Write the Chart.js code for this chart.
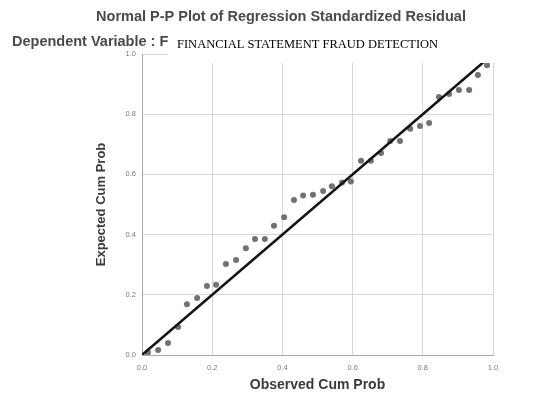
<!DOCTYPE html>
<html lang="en">
  <head>
    <meta charset="UTF-8" />
    <title>Normal P-P Plot</title>
    <style>
      body { margin: 0; background: #fff; }
    </style>
  </head>

  <body>
    <script src="https://cdn.jsdelivr.net/npm/chart.js"></script>
    <canvas id="pp-plot" width="560" height="396"></canvas>

    <script>
      // values
      const observedCumProb = [
        0.017, 0.046, 0.074, 0.103, 0.128, 0.157, 0.185, 0.211, 0.239, 0.268,
        0.296, 0.322, 0.350, 0.376, 0.405, 0.433, 0.459, 0.487, 0.516, 0.541,
        0.570, 0.595, 0.624, 0.652, 0.681, 0.707, 0.735, 0.764, 0.792, 0.818,
        0.846, 0.875, 0.903, 0.932, 0.957, 0.983,
      ]
      const expectedCumProb = [
        0.008, 0.017, 0.040, 0.093, 0.169, 0.189, 0.229, 0.233, 0.302, 0.316,
        0.355, 0.385, 0.385, 0.429, 0.458, 0.515, 0.530, 0.532, 0.545, 0.561,
        0.573, 0.576, 0.645, 0.645, 0.671, 0.711, 0.711, 0.752, 0.761, 0.771,
        0.857, 0.867, 0.880, 0.880, 0.930, 0.963,
      ]
      const lineEnds = [0, 1]
      const tickValues = [0, 0.2, 0.4, 0.6, 0.8, 1.0]

      const chartTitle = 'Normal P-P Plot of Regression Standardized Residual'
      const dependentLabel = 'Dependent Variable : FINANCIAL STATEMENT FRAUD DETECTION'
      const pastedLabel = 'FINANCIAL STATEMENT FRAUD DETECTION'

      const sans = '"Liberation Sans", Arial, sans-serif'

      // title lines + the white pasted-over box
      const header = {
        id: 'header',
        afterDraw(chart) {
          const { ctx } = chart
          ctx.save()
          ctx.fillStyle = '#4a4a4a'
          ctx.textBaseline = 'middle'
          ctx.textAlign = 'center'
          ctx.font = 'bold 14.5px ' + sans
          ctx.fillText(chartTitle, 281, 17)
          ctx.textAlign = 'left'
          ctx.font = 'bold 14.5px ' + sans
          ctx.fillText(dependentLabel, 12, 42)

          ctx.fillStyle = '#fff'
          ctx.fillRect(168, 30, 337, 33)
          ctx.fillStyle = '#000'
          ctx.font = '12.5px "Liberation Serif", "Times New Roman", serif'
          ctx.fillText(pastedLabel, 177, 45)
          ctx.restore()
        },
      }

      const axisTicks = (axis) => {
        axis.ticks = tickValues.map((value) => ({ value }))
      }

      new Chart(document.getElementById('pp-plot'), {
        type: 'scatter',
        data: {
          datasets: [
            {
              label: 'line',
              data: lineEnds.map((v) => ({ x: v, y: v })),
              showLine: true,
              borderColor: '#141414',
              borderWidth: 2.5,
              pointRadius: 0,
              order: 0,
            },
            {
              label: 'residuals',
              data: observedCumProb.map((x, i) => ({ x, y: expectedCumProb[i] })),
              backgroundColor: '#727272',
              borderWidth: 0,
              pointRadius: 3,
              order: 1,
            },
          ],
        },
        options: {
          responsive: false,
          animation: false,
          layout: { padding: { top: 54, right: 67, bottom: 0, left: 0 } },
          plugins: {
            legend: { display: false },
            tooltip: { enabled: false },
          },
          scales: {
            x: {
              min: 0,
              max: 1,
              afterBuildTicks: axisTicks,
              afterFit: (axis) => { axis.height = 41 },
              grid: { color: '#d6d6d6', drawTicks: false },
              border: { color: '#a8a8a8' },
              ticks: {
                padding: 8,
                color: '#7a7a7a',
                font: { size: 7.5, family: sans },
                maxRotation: 0,
                autoSkip: false,
                callback: (v) => v.toFixed(1),
              },
              title: {
                display: true,
                text: 'Observed Cum Prob',
                color: '#3a3a3a',
                font: { size: 14, weight: 'bold', family: sans },
                padding: { top: 0, bottom: 2 },
              },
            },
            y: {
              min: 0,
              max: 1,
              afterBuildTicks: axisTicks,
              afterFit: (axis) => { axis.width = 142 },
              grid: { color: '#d6d6d6', drawTicks: false },
              border: { color: '#a8a8a8' },
              ticks: {
                padding: 6,
                color: '#7a7a7a',
                font: { size: 7.5, family: sans },
                autoSkip: false,
                callback: (v) => v.toFixed(1),
              },
              title: {
                display: true,
                text: 'Expected Cum Prob',
                color: '#3a3a3a',
                font: { size: 13, weight: 'bold', family: sans },
                padding: { top: 94, bottom: 0 },
              },
            },
          },
        },
        plugins: [header],
      })
    </script>
  </body>
</html>
